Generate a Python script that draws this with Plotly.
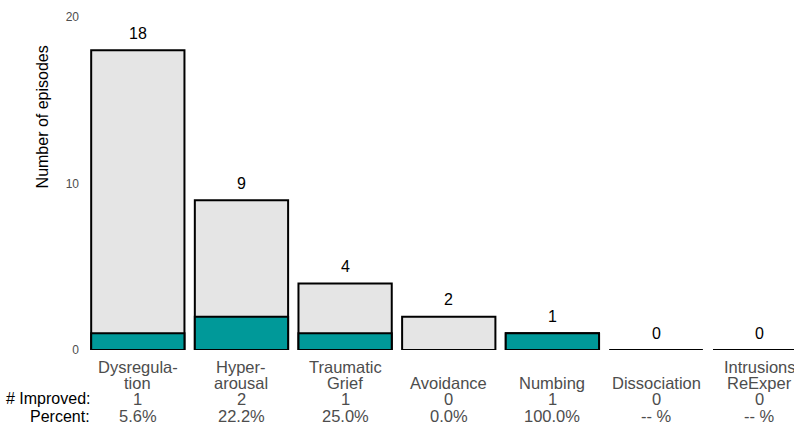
import plotly.graph_objects as go

categories = ["Dysregulation", "Hyperarousal", "Traumatic Grief", "Avoidance",
              "Numbing", "Dissociation", "Intrusions ReExper"]
label_line1 = ["Dysregula-", "Hyper-", "Traumatic", "", "", "", "Intrusions"]
label_line2 = ["tion", "arousal", "Grief", "Avoidance", "Numbing", "Dissociation", "ReExper"]
totals = [18, 9, 4, 2, 1, 0, 0]
improved = [1, 2, 1, 0, 1, 0, 0]
percent_labels = ["5.6%", "22.2%", "25.0%", "0.0%", "100.0%", "-- %", "-- %"]
y_ticks = [0, 10, 20]

FONT = "Liberation Sans, Arial, sans-serif"
GRAY_TXT = "#4d4d4d"

fig = go.Figure()
fig.add_trace(go.Bar(x=categories, y=totals, width=0.9,
                     marker=dict(color="#e5e5e5", line=dict(color="black", width=2)),
                     hoverinfo="skip"))
fig.add_trace(go.Bar(x=categories, y=improved, width=0.9,
                     marker=dict(color="#009999", line=dict(color="black", width=2)),
                     hoverinfo="skip"))

W, H = 794, 427
L, R, T, B = 85.6, 0, 17, 77
ph = H - T - B

def py(p):
    return (H - B - p) / ph

ann = []
for c, t in zip(categories, totals):
    ann.append(dict(x=c, y=t, xref="x", yref="y", text=str(t), showarrow=False,
                    yanchor="middle", yshift=17, font=dict(size=16, color="black", family=FONT)))
rows = [(label_line1, 367), (label_line2, 383), ([str(v) for v in improved], 399), (percent_labels, 416)]
for texts, p in rows:
    for c, t in zip(categories, texts):
        if t:
            ann.append(dict(x=c, y=py(p), xref="x", yref="paper", text=t, showarrow=False,
                            yanchor="middle", font=dict(size=16.5, color=GRAY_TXT, family=FONT)))
ann.append(dict(x=(92 - L) / (W - L), y=py(399), xref="paper", yref="paper", text="# Improved:",
                showarrow=False, xanchor="right", yanchor="middle",
                font=dict(size=16, color="black", family=FONT)))
ann.append(dict(x=(92 - L) / (W - L), y=py(416), xref="paper", yref="paper", text="Percent:",
                showarrow=False, xanchor="right", yanchor="middle",
                font=dict(size=16, color="black", family=FONT)))
ann.append(dict(x=(42 - L) / (W - L), y=py(117), xref="paper", yref="paper", text="Number of episodes",
                showarrow=False, textangle=-90, xanchor="center", yanchor="middle",
                font=dict(size=16, color="black", family=FONT)))

fig.update_layout(
    width=W, height=H, barmode="overlay", showlegend=False,
    paper_bgcolor="white", plot_bgcolor="white",
    margin=dict(l=L, r=R, t=T, b=B),
    font=dict(family=FONT),
    annotations=ann,
    xaxis=dict(range=[-0.5, 6.331], showticklabels=False, showgrid=False, zeroline=False,
               ticks="", showline=False),
    yaxis=dict(range=[0, 20], tickvals=y_ticks, showgrid=False, zeroline=False, showline=False,
               ticks="", tickfont=dict(size=12, color=GRAY_TXT, family=FONT), ticklabelstandoff=6),
)
fig.write_html("out.html", config={"displayModeBar": False},
               post_script="document.body.style.margin='0px';document.body.style.overflow='hidden';")
